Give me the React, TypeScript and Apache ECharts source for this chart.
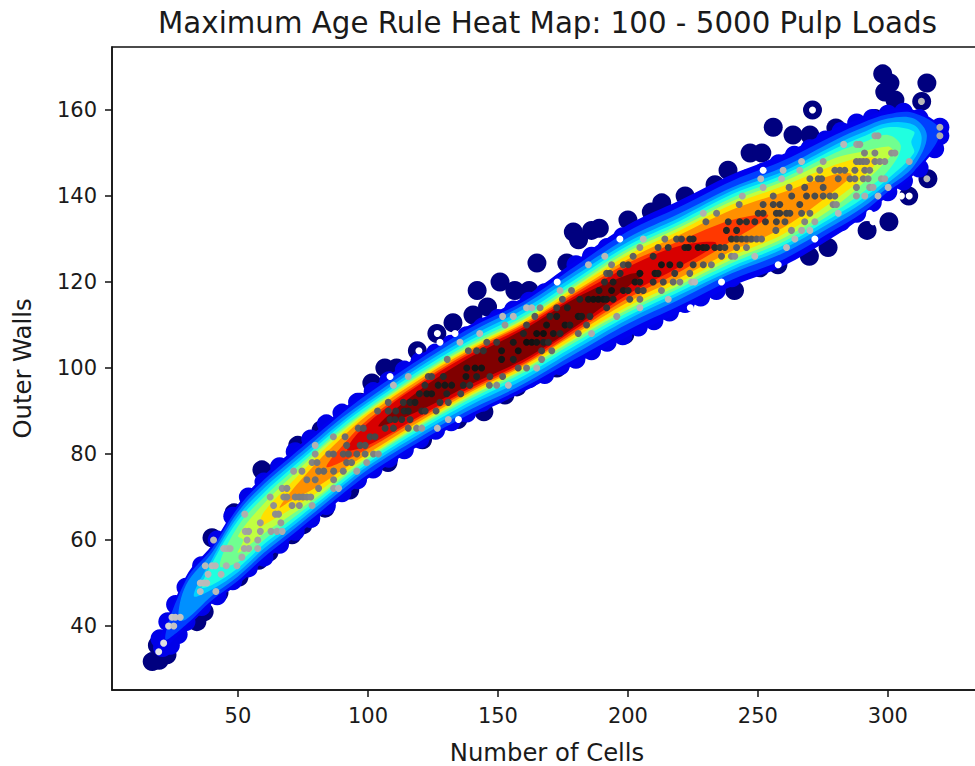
import React, { useEffect, useRef } from "react";
import * as echarts from "echarts";

const titleText = "Maximum Age Rule Heat Map: 100 - 5000 Pulp Loads";
const xName = "Number of Cells";
const yName = "Outer Walls";
const xTicks = [50, 100, 150, 200, 250, 300];
const yTicks = [40, 60, 80, 100, 120, 140, 160];

// ridge of the band
const stations = [30,40,50,60,70,80,90,100,120,140,160,180,200,220,240,260,280,290,300,310];
const ridge = [45.5,52,59,65,70,75,80,84.6,92.5,99.5,105.5,113,120.3,126,132,136.8,143.3,146.5,150,152.5];

// half-thickness of each density level at the stations
const _ = null;
const levelWidths = [
  [6,6.8,9.3,10,10.2,10.3,10.3,10.3,10.5,10.8,11,12,13,13,13,13,12.5,11.5,10,7.5],
  [5.2,6,8.5,9,9.2,9.3,9.4,9.4,9.6,10,10,10.8,11.5,11.5,11.5,11.5,11,10.5,9,6.8],
  [4,5,7.5,8,8.2,8.3,8.4,8.2,8.6,9,9.2,9.6,10,10,10,10,9.8,9.3,8,5.5],
  [_,3.5,6.5,7,7.3,7.4,7.5,7.4,7.8,8,8.2,8.6,9,9,9.2,9,8.7,8.2,7,4],
  [_,2.5,5.5,6,6.4,6.6,6.8,6.7,7,7.2,7.3,7.7,8.2,8.2,8.4,8.2,7.8,7.2,6,2.5],
  [_,_,4.2,5,5.5,5.8,6,6,6.3,6.5,6.5,6.9,7.4,7.4,7.6,7.4,6.8,5.8,4.2,_],
  [_,_,2,3.5,4.4,5.2,5.4,5.5,5.8,5.9,5.9,6.2,6.7,6.7,6.8,6.6,5.6,3.8,1.5,_],
  [_,_,_,1.5,3,4.2,4.8,5.1,5.4,5.5,5.6,5.8,6,6,6,5.6,4,2.4,_,_],
  [_,_,_,_,1,2.8,3.8,4.5,4.9,5,5,5,5,5,4.8,4.1,1.8,_,_,_],
  [_,_,_,_,_,_,1.8,3.4,4.2,4.5,4.6,4.5,4.1,3.6,2.4,_,_,_,_,_],
  [_,_,_,_,_,_,_,2.6,3.7,4,4.1,3.9,3.2,2.4,_,_,_,_,_,_],
  [_,_,_,_,_,_,_,_,2.4,3.2,3.5,3.3,1.4,_,_,_,_,_,_,_],
];
const levelStarts = [[19,34],[22,37],[27,41.5],[33,47],[36,49],[43,54],[52,60],[58,63],[66,67.5],[84,77],[92,81],[104,86.5]];
const levelEnds = [[321,155],[320,155],[315,154],[313,153.5],[309,152.5],[305,151.5],[302,150.5],[296,148.5],[286,145],[254,135.5],[234,129],[206,122]];
const levelColors = ["#0000f0","#0040ff","#0090ff","#00d0ff","#20ffe0","#70ff90","#c0ff40","#ffe000","#ff9000","#ff3800","#d80000","#800000"];

// big dark circles sticking out of the band
const outerCircles = [
  [298,168.4],[300.8,166.3],[298.8,164.2],[302.7,162.3],[315,166.3],[313,162],[271,160],[255.9,156],
  [263.5,154.2],[270,154.2],[280,155.8],[295,158],[288.4,156],[247,150],[251.5,150],[238.5,146],
  [233.5,142.6],[222,140],[213,138.4],[209,136.3],[200,134.4],[189,132.5],[300.4,134],[292,132],
  [277,128],[269.8,126],[315.4,144],[308,140],[257.7,124],[241,118],[250.8,123.3],[165,124.4],
  [176.5,124.4],[150.8,120],[142,118],[156.5,118],[162,118],[132.7,110.5],[126.5,108],[140.4,112.3],
  [146,114.2],[119,104],[106.5,100],[111,100],[108.5,98],[101.5,96.5],[97,92],[90.4,88.4],
  [144.6,89.8],[152.7,93.7],[134.6,88],[157.3,95.6],[180.8,103.7],[172.7,100],[198.8,107.7],[107.7,78],
  [121,83.3],[165.4,99],[59.2,76.3],[48.5,66.3],[40,60.5],[34.2,41],[17,31.7],[19.7,32],
  [22.7,33.3],[19,35.5],[83.5,67.4],[93,71.6],[75,63.5],[70.8,61.2],[62,57.2],[58,55.3],
  [50.4,51.4],[42.7,47.7],[37,43.3],[65.8,76.7],[179,131.6],[181,129.8],[186,132],[73,82],[82,85.6],
];

// blue circles that make the scalloped rim of the band
const rimCircles = [
  [21,35],[24,35.5],[27,38],[30,41],[36,44.5],[42,47],[48,50.5],[54,53.5],[60,56],[66,59],[72,62],[78,65],[84,68],[90,71],[96,74],
  [102,76.5],[108,79],[114,81],[120,83.5],[126,85.5],[132,87.5],[138,89.5],[144,92],[150,94],[156,96],
  [162,97.5],[168,98.5],[174,100.5],[180,102],[186,104],[192,106],[198,107.5],[204,109.5],[210,111],
  [216,113],[222,115],[228,116.5],[234,118],[240,121],[246,123],[252,125],[258,126.5],[264,128],[270,130],
  [276,132],[282,134],[288,136],[294,138.5],[300,141],[306,143.5],[312,146.5],
  [20,37],[23,41],[26,45],[30,49],[36,54],[42,60],[48,65.5],[54,70],[60,73.5],[66,77],[72,80.5],[78,83.5],[84,87],[90,89.5],[96,92],
  [102,94.5],[108,97],[114,99.5],[120,101.5],[126,103.5],[132,105.5],[138,107.5],[144,109.5],[150,111.5],
  [156,113.5],[162,115.5],[168,117.5],[174,119.5],[180,124],[186,126],[192,128],[198,130.5],[204,132],
  [210,133],[216,135],[222,136.5],[228,138],[234,140],[240,142],[246,144],[252,145.5],[258,147.5],
  [264,149.5],[270,151],[276,153],[282,155],[288,157],[294,158],[300,159],[306,159.5],[312,158],[318,155],
  [320,156],[320,154],[318,151],
];

// small dots, one list per row of outer walls
const rows: [number, number[]][] = [
  [34,[19.5]],[36,[21.4]],[40,[23.3,25.3]],[42,[24.6,25.9,27.8]],[48,[35.5,41.5]],[50,[35.5,36.8,38]],
  [52,[38.5,43.5]],[54,[37.4,40,41.3,45.5,49.6]],[56,[51.5]],[58,[44.5,45.8,47,52.4,54.1,57.6]],
  [60,[40.6,53.5,57.6]],[62,[52.8,54.1,58.6,62.7,65,67]],[64,[58.6,66.5]],[66,[52.6,64.4,65.6]],
  [68,[63.7,70.8,73.6,78.5]],[70,[62.4,67.6,68.8,72,73.5,75,76.5,78]],[72,[67,68.8,81,86.8,88.7]],
  [74,[76.5,79.7,86.8]],[76,[71.4,74.6,81,83,86.8,90.5,95.7]],[78,[78.5,80.4,91.8,93.7,99.5]],
  [80,[79.7,84.9,86.7,90.5,92.5,95.7,98.9,102.1,104]],[82,[79.7,91.8,97,98.9]],
  [84,[86.7,91.2,100.8,102.7]],[86,[96.3,98.2,106.6,109.8,115.5,118.7,120.7,126.7]],
  [88,[108.5,110.4,113,116.2,130.9,134.8]],[90,[103.7,107.8,110.7,113.9,115.5,120.7,122,126.2]],
  [92,[107.8,113.6,116.2,118.1,127.7,130.9]],[94,[119.8,122.6,124.5,130.3,135.7]],
  [96,[109.8,121.9,127,129.6,132.2,136.7,139.2,146.7,149.5,154]],
  [98,[108.5,115.5,123.2,124.5,129,137.7,141.8,146.9,151.8]],
  [100,[138,141.2,143.7,157.8,161,164.9]],[102,[130.5,151.4,155.9,166.8]],
  [104,[119.6,138.6,141.8,144.4,151.4,157.8,166.8,170.7]],
  [106,[127.7,135.4,145.7,149.5,155.9,161,163,164.9,167.5,169.4]],
  [108,[126.7,133.5,143,159.8,164.9,167.5,171.3,173.9,180.9,186]],
  [110,[152.7,161,168.7,175.8,177.7,184.1]],
  [112,[151.8,155.9,164.2,170,172.6,180.9,182.2,185.4,195.7]],
  [114,[161,163,166.2,172.6,176.7,191.8,204.6,224]],
  [116,[174.8,181.5,184.8,186.7,188.6,190.5,191.8,194.3,200.7,204.6,215.5]],
  [118,[173.9,178.3,188.9,193.7,198.2,200.1,203.9,205.9,212.9]],
  [120,[172.8,191,194.3,202.7,204.6,209.7,213.6,217.4,220,224.5,225.7,236]],
  [122,[191.8,193,197,204.6,210.4,211.6,218,223.8]],
  [124,[184.8,193.7,198.2,200.1,212.9,216.1,220,225.1,229,232.1,257.8]],
  [126,[191.1,202,209.7,236,239.8,241.1,248.8]],
  [128,[204.6,211.6,215.5,221.9,223.2,227,228.9,230.2,233.4,235.4,237.3,241.8,245.6,261]],
  [130,[196.9,205.9,214.2,218.7,220.6,223.8,225.1,239.8,241.8,243.7,245.6,247.5,249.5,251.4,264.2,271.9]],
  [132,[237.9,241.8,256.9,262.9,266.8,270]],
  [134,[230,238.6,243,245.6,248.8,252.9,257.1,260.4,268,271.9,294.3]],
  [136,[229,234.1,250.1,252,257.1,258.4,261,262.3,266.8,270,280.9,293]],
  [138,[242.8,252,255.9,258.4,266.1,278.9,280.2]],
  [140,[244,255.9,263,268.7,271.9,275.1,277.7,279.6,287.9,291.1,296.2,305.2,308.2]],
  [142,[252,262,268,275.1,287.9,293,294.3,300.1]],
  [144,[251.1,259.1,270,273.2,274.5,280.9,285.4,287.3,290.5,292.4,297.5,298.8,315]],
  [146,[252,259.7,266.1,273.8,279.6,281.5,283.4,287.3,291.1,293]],
  [148,[266.8,275.1,287.9,289.2,290.5,291.8,295,296.9,298.8,308.2]],
  [150,[291,295,301.4,302.7]],[152,[283,288,289.2]],[154,[295,296.2,320]],[156,[320]],[160,[271]],[162,[312.9]],
];

// gray of a dot on the ridge, by number of cells
const grayX = [20,25,40,60,80,100,120,160,200,230,250,270,290,310];
const grayV = [255,195,185,150,110,70,25,15,20,25,50,70,110,170];

function lookup(xs: number[], vs: number[], x: number) {
  if (x <= xs[0]) return vs[0] + (x - xs[0]) * (vs[1] - vs[0]) / (xs[1] - xs[0]);
  for (let i = 1; i < xs.length; i++) {
    if (x <= xs[i]) return vs[i - 1] + (x - xs[i - 1]) * (vs[i] - vs[i - 1]) / (xs[i] - xs[i - 1]);
  }
  return vs[vs.length - 1];
}

function dotColor(x: number, y: number) {
  const d = Math.abs(y - lookup(stations, ridge, x));
  const top = lookup(grayX, grayV, x);
  if (d > 9.5) return "#ffffff";
  const g = Math.round(top + (185 - top) * Math.min(1, (d / 7.5) * (d / 7.5)));
  return `rgb(${g},${g},${g})`;
}

function levelOutline(i: number) {
  const upper: number[][] = [];
  const lower: number[][] = [];
  levelWidths[i].forEach((w, k) => {
    if (w === null) return;
    upper.push([stations[k], ridge[k] + (w as number)]);
    lower.push([stations[k], ridge[k] - (w as number)]);
  });
  return [levelStarts[i], ...upper, levelEnds[i], ...lower.reverse()];
}

const dots: number[][] = [];
rows.forEach(([y, xs]) => xs.forEach((x) => dots.push([x, y])));

export default function App() {
  const ref = useRef<HTMLDivElement>(null);
  useEffect(() => {
    const chart = echarts.init(ref.current!, undefined, { renderer: "svg" });
    const font = "DejaVu Sans";
    chart.setOption({
      animation: false,
      backgroundColor: "#ffffff",
      textStyle: { fontFamily: font },
      title: {
        text: titleText,
        left: 542.5,
        top: 3,
        textAlign: "center",
        textStyle: { fontFamily: font, fontSize: 29.3, fontWeight: "normal", color: "#1a1a1a" },
      },
      grid: { left: 112, top: 47, width: 870, height: 643, show: true, borderColor: "#111", borderWidth: 1.5, backgroundColor: "transparent", outerBoundsMode: "none" },
      xAxis: {
        type: "value",
        min: 1.54,
        max: 336.2,
        name: xName,
        nameLocation: "middle",
        nameGap: 50,
        nameTextStyle: { fontSize: 24.3, color: "#1a1a1a", fontFamily: font },
        axisLine: { show: true, onZero: false, lineStyle: { color: "#111", width: 1.5 } },
        axisTick: { show: true, length: 7, customValues: xTicks, lineStyle: { color: "#111", width: 1.5 } },
        axisLabel: { customValues: xTicks, fontSize: 21, margin: 15, color: "#1a1a1a", fontFamily: font },
        splitLine: { show: false },
      },
      yAxis: {
        type: "value",
        min: 25.1,
        max: 174.65,
        name: yName,
        nameLocation: "middle",
        nameGap: 78,
        nameTextStyle: { fontSize: 24.3, color: "#1a1a1a", fontFamily: font },
        axisLine: { show: true, onZero: false, lineStyle: { color: "#111", width: 1.5 } },
        axisTick: { show: true, length: 7, customValues: yTicks, lineStyle: { color: "#111", width: 1.5 } },
        axisLabel: { customValues: yTicks, fontSize: 21, margin: 15, color: "#1a1a1a", fontFamily: font },
        splitLine: { show: false },
      },
      series: [
        {
          type: "scatter",
          z: 2,
          symbolSize: 19,
          itemStyle: { color: "#00007f", opacity: 1 },
          data: outerCircles,
          silent: true,
        },
        {
          type: "scatter",
          z: 3,
          symbolSize: 19,
          itemStyle: { color: "#0000e8", opacity: 1 },
          data: rimCircles,
          silent: true,
        },
        {
          type: "custom",
          z: 4,
          coordinateSystem: "cartesian2d",
          encode: { x: 0, y: 1 },
          data: levelStarts,
          silent: true,
          renderItem: (params: any, api: any) => {
            const points = levelOutline(params.dataIndex).map((p) => api.coord(p));
            return {
              type: "polygon",
              shape: { points, smooth: 0.35 },
              style: { fill: levelColors[params.dataIndex] },
            };
          },
        },
        {
          type: "scatter",
          z: 5,
          symbolSize: 7,
          data: dots,
          silent: true,
          itemStyle: { opacity: 1, color: (p: any) => dotColor(p.value[0], p.value[1]) },
        },
      ],
    });
    return () => chart.dispose();
  }, []);
  return <div ref={ref} style={{ position: "fixed", left: 0, top: 0, width: 975, height: 766 }} />;
}
